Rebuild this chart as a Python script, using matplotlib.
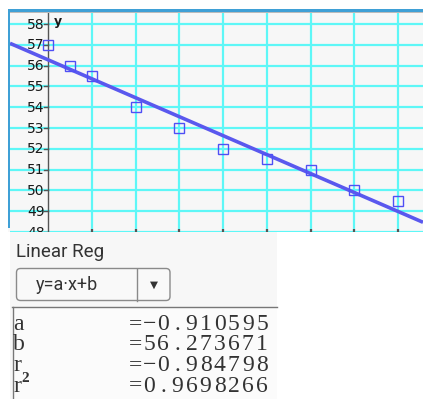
import numpy as np
import matplotlib
matplotlib.use("Agg")
import matplotlib.pyplot as plt
from matplotlib.patches import Rectangle, FancyBboxPatch

# ---- data ----
x_vals = [0, 0.5, 1, 2, 3, 4, 5, 6, 7, 8]
y_vals = [57, 56, 55.5, 54, 53, 52, 51.5, 51, 50, 49.5]
y_ticks = [48, 49, 50, 51, 52, 53, 54, 55, 56, 57, 58]
x_grid = [1, 2, 3, 4, 5, 6, 7, 8]
reg_labels = ["a", "b", "r", "r²"]
reg_values = ["=−0.910595", "=56.273671", "=−0.984798", "=0.9698266"]

W, H = 423, 399
fig = plt.figure(figsize=(W / 100, H / 100), dpi=100)
fig.patch.set_facecolor("white")

# overlay axes in pixel coordinates
ov = fig.add_axes([0, 0, 1, 1])
ov.set_xlim(0, W)
ov.set_ylim(H, 0)
ov.axis("off")

# frame / background of graph window
ov.add_patch(Rectangle((8, 9), W - 8, 232 - 9, facecolor="#f7f7f7", edgecolor="none", zorder=0))
ov.add_patch(Rectangle((8, 9), W - 8, 2.5, facecolor="#3fa0d6", edgecolor="none", zorder=5))
ov.add_patch(Rectangle((8, 11.5), W - 8, 1, facecolor="#bbbbbb", edgecolor="none", zorder=5))
ov.add_patch(Rectangle((8, 9), 2.2, 228 - 9, facecolor="#3fa0d6", edgecolor="none", zorder=5))

# bottom panel
ov.add_patch(Rectangle((10, 232), 267, H - 232, facecolor="#f7f7f7", edgecolor="none", zorder=0))

# data axes
px_left, px_right, px_top, px_bot = 10, 423, 12.5, 232
ax = fig.add_axes([px_left / W, (H - px_bot) / H, (px_right - px_left) / W, (px_bot - px_top) / H])
ax.set_facecolor("none")
x0px, xunit = 48.3, 43.71
y58px, yunit = 24.0, 20.8
ax.set_xlim((px_left - x0px) / xunit, (px_right - x0px) / xunit)
ax.set_ylim(58 - (px_bot - y58px) / yunit, 58 + (y58px - px_top) / yunit)
for s in ax.spines.values():
    s.set_visible(False)
ax.set_xticks([])
ax.set_yticks([])

gc = "#5ef7f7"
for yv in y_ticks:
    ax.axhline(yv, color=gc, lw=1.6, zorder=1)
for xv in x_grid:
    ax.axvline(xv, color=gc, lw=1.6, zorder=1)

# y axis
ax.axvline(0, color="#555555", lw=1.0, zorder=2)
for yv in y_ticks:
    ax.plot([-4 / xunit, 0], [yv, yv], color="#555555", lw=1.0, zorder=2, clip_on=True)
    ax.text(-3.5 / xunit, yv - 0.03, str(yv), ha="right", va="center", fontsize=10,
            color="#1a1a1a", family="DejaVu Sans", zorder=3, clip_on=True)
ax.text(10 / xunit, 58.1, "y", ha="center", va="center", fontsize=9, fontweight="bold",
        color="#1a1a1a", zorder=3)
# x ticks at bottom
ylo = ax.get_ylim()[0]
for xv in x_grid:
    ax.plot([xv, xv], [ylo, ylo + 3.5 / yunit], color="#555555", lw=1.6, zorder=2,
            solid_capstyle="butt")

# regression
xs = np.array(x_vals, dtype=float)
ys = np.array(y_vals, dtype=float)
a, b = np.polyfit(xs, ys, 1)
xl = np.array(ax.get_xlim())
ax.plot(xl, a * xl + b, color="#5a58ee", lw=2.6, zorder=4, solid_capstyle="butt")
ax.plot(xs, ys, linestyle="none", marker="s", markersize=6.5, markerfacecolor="none",
        markeredgecolor="#4f4ff5", markeredgewidth=1.0, zorder=5)

# ---- Linear Reg panel ----
ov.text(16, 252, "Linear Reg", fontsize=13.5, color="#333333", family="Roboto",
        ha="left", va="center", zorder=6)
ov.add_patch(FancyBboxPatch((16.5, 268.5), 153.5, 32, boxstyle="round,pad=0,rounding_size=4",
                            facecolor="#f9f9f9", edgecolor="#8a8a8a", lw=1.0, zorder=6))
ov.plot([137, 137], [269, 300.5], color="#8a8a8a", lw=1.0, zorder=7)
ov.text(67, 285, "y=a·x+b", fontsize=13, color="#333333", family="Roboto",
        ha="center", va="center", zorder=7)
ov.text(154, 285, "▼", fontsize=7.5, color="#333333", family="DejaVu Sans",
        ha="center", va="center", zorder=7)

# result box
ov.add_patch(Rectangle((12, 307), 265, H - 307 + 5, facecolor="#fbfbfb", edgecolor="none", zorder=5))
ov.plot([12, 277], [307, 307], color="#777777", lw=1.0, zorder=6)
ov.plot([12.5, 12.5], [307, H], color="#777777", lw=1.0, zorder=6)

row_y0, row_dy = 324.5, 20.5
pitch = 14.1
for i, (lab, val) in enumerate(zip(reg_labels, reg_values)):
    yy = row_y0 + i * row_dy
    if lab == "r²":
        ov.text(13, yy, "r", fontsize=17, color="#333333", family="Liberation Serif",
                ha="left", va="center", zorder=7)
        ov.text(21, yy - 7, "2", fontsize=11, color="#333333", family="Liberation Serif",
                ha="left", va="center", zorder=7, fontweight="bold")
    else:
        ov.text(13, yy, lab, fontsize=17, color="#333333", family="Liberation Serif",
                ha="left", va="center", zorder=7, clip_on=True)
    for j, ch in enumerate(val):
        ov.text(128 + pitch * j + pitch / 2, yy, ch, fontsize=17, color="#333333",
                family=["Liberation Serif", "DejaVu Serif"], ha="center", va="center", zorder=7)

fig.savefig("out.png", dpi=100)
